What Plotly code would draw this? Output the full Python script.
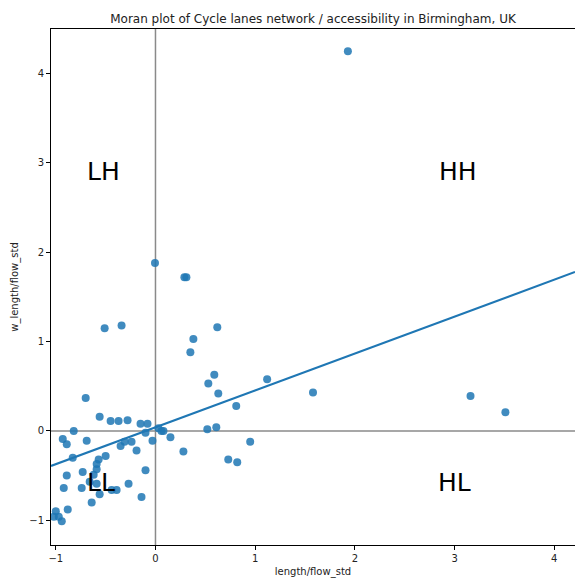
import numpy as np
import plotly.graph_objects as go

# Standardised cycle-lane length/flow and its spatial lag
length_flow_std = [
    -0.70, -0.56, -0.45, -0.37, -0.28, -0.15, -0.08, -0.82, -0.93, -0.89,
    -0.69, -0.10, -0.03, -0.24, -0.35, -0.31, -0.19, -0.83, -0.50, -0.57,
    -0.59, -0.59, -0.73, -0.89, -0.62, -0.66, -0.59, -0.92, -0.74, -0.56,
    -0.44, -0.39, -0.27, -0.10, -0.14, -0.64, -0.88, -1.00, -1.02, -0.94,
    -0.97, 0.03, 0.06, 0.08, 0.15, 0.28, 0.52, 0.61, 0.95, 0.73,
    0.82, -0.005, 0.29, 0.31, 0.62, 0.38, 0.35, 0.59, 0.53, 0.63,
    1.12, 0.81, 1.58, -0.51, -0.34, 1.93, 3.16, 3.51,
]
w_length_flow_std = [
    0.37, 0.16, 0.11, 0.11, 0.12, 0.08, 0.08, 0.00, -0.09, -0.15,
    -0.11, -0.02, -0.11, -0.12, -0.17, -0.12, -0.22, -0.30, -0.28, -0.32,
    -0.37, -0.43, -0.46, -0.50, -0.49, -0.57, -0.59, -0.64, -0.64, -0.71,
    -0.66, -0.66, -0.59, -0.44, -0.74, -0.80, -0.88, -0.90, -0.96, -1.01,
    -0.96, 0.03, 0.00, 0.00, -0.07, -0.23, 0.02, 0.04, -0.12, -0.32,
    -0.35, 1.88, 1.72, 1.72, 1.16, 1.03, 0.88, 0.63, 0.53, 0.42,
    0.58, 0.28, 0.43, 1.15, 1.18, 4.25, 0.39, 0.21,
]

# Fitted regression of the lag on the variable
fit_slope = 0.413
fit_intercept = 0.041

quadrant_labels = ["LH", "HH", "LL", "HL"]
quadrant_x = [-0.52, 3.03, -0.55, 3.0]
quadrant_y = [2.91, 2.91, -0.58, -0.58]

x_range = [-1.048, 4.208]
y_range = [-1.277, 4.50]

blue = "#1f77b4"
font_family = "DejaVu Sans, sans-serif"

fig = go.Figure()

fig.add_trace(go.Scatter(
    x=length_flow_std, y=w_length_flow_std, mode="markers",
    marker=dict(color=blue, size=8, opacity=0.85, line=dict(width=0)),
    showlegend=False, hoverinfo="skip",
))

line_x = np.array(x_range)
fig.add_trace(go.Scatter(
    x=line_x, y=fit_intercept + fit_slope * line_x, mode="lines",
    line=dict(color=blue, width=2), showlegend=False, hoverinfo="skip",
))

# Quadrant divisions
fig.add_vline(x=0, line=dict(color="#8a8a8a", width=1.5), layer="below")
fig.add_hline(y=0, line=dict(color="#8a8a8a", width=1.5), layer="below")

for label, lx, ly in zip(quadrant_labels, quadrant_x, quadrant_y):
    fig.add_annotation(x=lx, y=ly, text=label, showarrow=False,
                       font=dict(size=25, color="black", family=font_family),
                       xanchor="center", yanchor="middle")

axis_common = dict(
    showgrid=False, zeroline=False, showline=True, linecolor="black", linewidth=1,
    ticks="outside", ticklen=4, tickcolor="black", tickwidth=1,
    tickfont=dict(size=10, color="#222", family=font_family),
    title_font=dict(size=10, color="#222", family=font_family),
)

fig.update_xaxes(range=x_range, tickvals=[-1, 0, 1, 2, 3, 4], mirror=True,
                 title_text="length/flow_std", title_standoff=4, **axis_common)
fig.update_yaxes(range=y_range, tickvals=[-1, 0, 1, 2, 3, 4],
                 title_text="w_length/flow_std", title_standoff=8, **axis_common)

fig.update_layout(
    width=575, height=584,
    margin=dict(l=51, r=0, t=29, b=39),
    paper_bgcolor="white", plot_bgcolor="white",
    font=dict(family=font_family),
    title=dict(text="Moran plot of Cycle lanes network / accessibility in Birmingham, UK",
               x=(51 + 575) / 2 / 575, xanchor="center", y=1 - 19 / 584, yanchor="middle",
               font=dict(size=12, color="#222", family=font_family)),
)

fig.write_html("out.html")
